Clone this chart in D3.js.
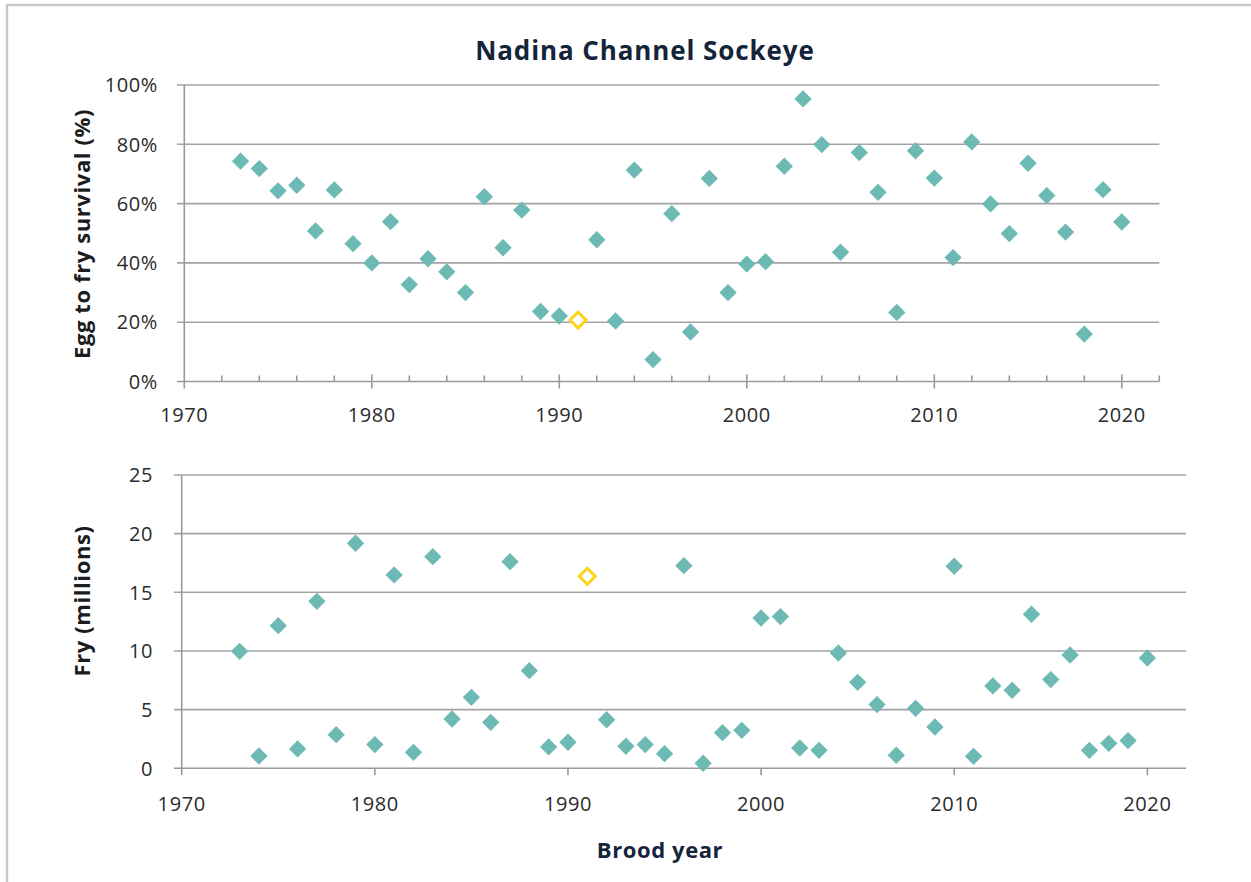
<!DOCTYPE html>
<html><head><meta charset="utf-8">
<script src="https://cdn.jsdelivr.net/npm/d3@7"></script>
<style>body{margin:0;background:#fff;} svg{display:block;}</style>
</head><body>
<svg id="c" width="1251" height="882"></svg>
<script>
const years = d3.range(1973, 2021);
const survival = [74.3,71.8,64.3,66.2,50.8,64.6,46.5,40.0,53.9,32.7,41.4,37.0,30.0,62.3,45.1,57.8,23.6,22.1,20.7,47.8,20.4,71.3,7.4,56.6,16.7,68.5,30.0,39.6,40.4,72.6,95.3,79.9,43.6,77.2,63.8,23.3,77.8,68.6,41.8,80.8,59.9,49.9,73.6,62.7,50.4,16.0,64.7,53.8];
const fry = [9.97,1.05,12.16,1.65,14.23,2.87,19.18,2.02,16.48,1.36,18.04,4.2,6.05,3.92,17.61,8.32,1.82,2.22,16.36,4.14,1.88,2.02,1.25,17.27,0.43,3.04,3.24,12.81,12.93,1.73,1.53,9.83,7.33,5.43,1.11,5.11,3.52,17.22,1.02,7.02,6.65,13.13,7.56,9.66,1.53,2.13,2.36,9.4];
const highlightYear = 1991;
const xTicks = [1970,1980,1990,2000,2010,2020];
const survTicks = [0,20,40,60,80,100];
const fryTicks = [0,5,10,15,20,25];

const svg = d3.select("#c");
const teal = "#6dbab5", gold = "#ffd21c", grid = "#a3a3a6", axisC = "#9a9a9d";
const tickFont = "'Open Sans', sans-serif";
const boldFont = "'Open Sans', sans-serif";

svg.append("rect").attr("x",7).attr("y",5).attr("width",1260).attr("height",900)
  .attr("fill","none").attr("stroke","#c6c6cc").attr("stroke-width",2.5);

svg.append("text").attr("x",645).attr("y",60).attr("text-anchor","middle")
  .attr("font-family",boldFont).attr("font-weight",700).attr("font-size",26).attr("letter-spacing",0.9)
  .attr("fill","#14243a").text("Nadina Channel Sockeye");

function panel(opts){
  const {x0,x1,yTop,yBot,yDomain,yTicks,yFmt,values,minor,xTickDir,yLabel,yLabelY,gridLeft,labelRight,xLabelY} = opts;
  const x = d3.scaleLinear().domain([1970,2022]).range([x0,x1]);
  const y = d3.scaleLinear().domain(yDomain).range([yBot,yTop]);
  const g = svg.append("g");
  g.selectAll(".gl").data(yTicks.filter(t=>t!==yDomain[0])).enter().append("line")
    .attr("x1",gridLeft).attr("x2",x1).attr("y1",d=>y(d)).attr("y2",d=>y(d))
    .attr("stroke",grid).attr("stroke-width",1.6);
  g.append("line").attr("x1",gridLeft).attr("x2",x1).attr("y1",y(yDomain[0])).attr("y2",y(yDomain[0]))
    .attr("stroke",axisC).attr("stroke-width",1.6);
  g.append("line").attr("x1",x0).attr("x2",x0).attr("y1",y(yDomain[1])).attr("y2",y(yDomain[0])+7)
    .attr("stroke",axisC).attr("stroke-width",1.6);
  const majors = d3.range(1980,2023,10);
  g.selectAll(".mt").data(majors).enter().append("line")
    .attr("x1",d=>x(d)).attr("x2",d=>x(d))
    .attr("y1",y(yDomain[0]) - (xTickDir==="cross"?7:0)).attr("y2",y(yDomain[0])+7)
    .attr("stroke",axisC).attr("stroke-width",1.6);
  if(minor){
    const mins = d3.range(1972,2023,2).filter(d=>d%10!==0);
    g.selectAll(".mn").data(mins).enter().append("line")
      .attr("x1",d=>x(d)).attr("x2",d=>x(d))
      .attr("y1",y(yDomain[0])-6).attr("y2",y(yDomain[0]))
      .attr("stroke",axisC).attr("stroke-width",1.6);
  }
  g.selectAll(".yl").data(yTicks).enter().append("text")
    .attr("x",labelRight).attr("y",d=>y(d)).attr("dy","0.36em").attr("text-anchor","end")
    .attr("font-family",tickFont).attr("font-size",20).attr("letter-spacing",0.6).attr("fill","#2b2b2b").text(yFmt);
  g.selectAll(".xl").data(xTicks).enter().append("text")
    .attr("x",d=>x(d)).attr("y",xLabelY).attr("dy","0.36em").attr("text-anchor","middle")
    .attr("font-family",tickFont).attr("font-size",20).attr("letter-spacing",0.6).attr("fill","#2b2b2b").text(d=>d);
  g.append("text").attr("transform",`translate(90,${yLabelY}) rotate(-90)`).attr("text-anchor","middle")
    .attr("font-family",boldFont).attr("font-weight",700).attr("font-size",22).attr("letter-spacing",0.6)
    .attr("fill","#1c1c1c").text(yLabel);
  const data = years.map((yr,i)=>({yr,v:values[i]}));
  g.selectAll(".pt").data(data.filter(d=>d.yr!==highlightYear)).enter().append("path")
    .attr("d",d3.symbol().type(d3.symbolSquare).size(150)())
    .attr("transform",d=>`translate(${x(d.yr)},${y(d.v)}) rotate(45)`)
    .attr("fill",teal);
  g.selectAll(".hp").data(data.filter(d=>d.yr===highlightYear)).enter().append("path")
    .attr("d",d3.symbol().type(d3.symbolSquare).size(130)())
    .attr("transform",d=>`translate(${x(d.yr)},${y(d.v)}) rotate(45)`)
    .attr("fill","#fff").attr("stroke",gold).attr("stroke-width",3);
}

panel({x0:184.3,x1:1159.3,yTop:85,yBot:381.5,yDomain:[0,100],yTicks:survTicks,yFmt:d=>d+"%",
  values:survival,minor:true,xTickDir:"cross",yLabel:"Egg to fry survival (%)",yLabelY:234,gridLeft:177,labelRight:158,xLabelY:415});
panel({x0:181.7,x1:1186,yTop:475,yBot:768.3,yDomain:[0,25],yTicks:fryTicks,yFmt:d=>d,
  values:fry,minor:false,xTickDir:"down",yLabel:"Fry (millions)",yLabelY:601,gridLeft:174,labelRight:153,xLabelY:804});

svg.append("text").attr("x",660).attr("y",858).attr("text-anchor","middle")
  .attr("font-family",boldFont).attr("font-weight",700).attr("font-size",22).attr("letter-spacing",0.6)
  .attr("fill","#14243a").text("Brood year");
</script>
</body></html>
